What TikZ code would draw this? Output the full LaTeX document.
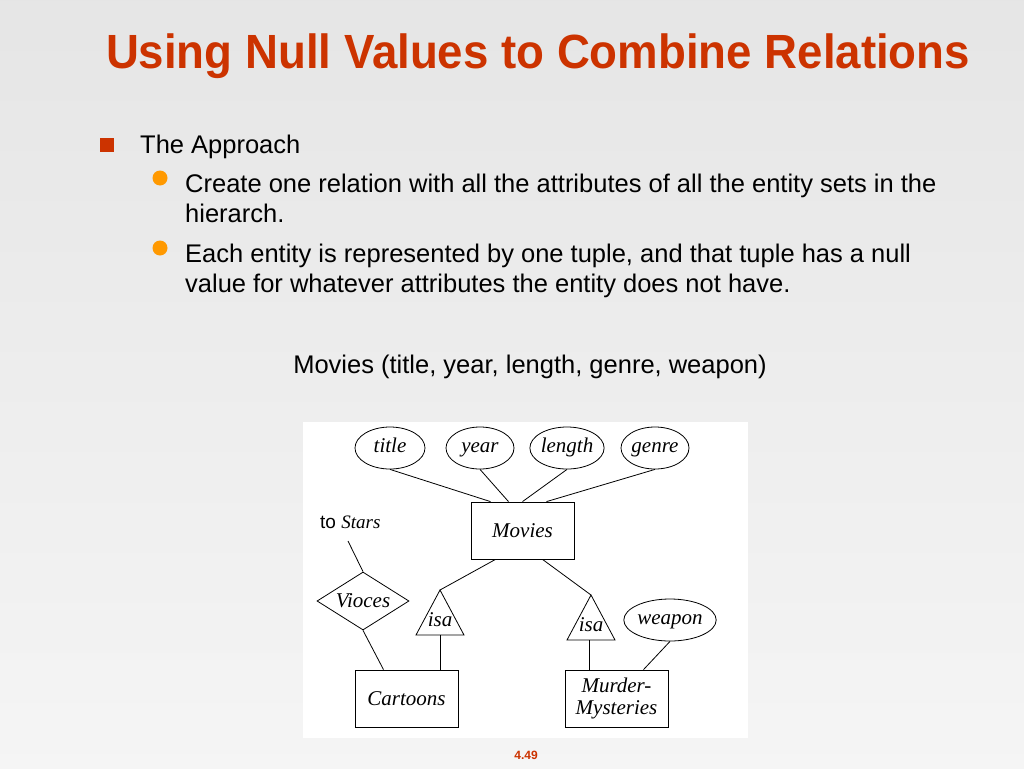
\documentclass[tikz,border=0pt]{standalone}
\usepackage{fontspec}
\setmainfont{Liberation Sans}
\newfontfamily\erfont{Liberation Serif}
\usetikzlibrary{shapes.geometric,positioning}
\definecolor{titlered}{HTML}{CC3300}
\definecolor{dotorange}{HTML}{FF9900}
\tikzset{
  body/.style={anchor=base west,inner sep=0,font=\fontsize{25.5}{28}\selectfont},
  attr/.style={draw,ellipse,thick,minimum height=42,font=\erfont\itshape\fontsize{21}{24}\selectfont,inner sep=0,text height=14,text depth=5},
  ent/.style={draw,thick,minimum width=103,minimum height=57,font=\erfont\itshape\fontsize{21}{22}\selectfont,align=center,inner sep=0},
  link/.style={thick}
}
\begin{document}
\begin{tikzpicture}[x=1pt,y=-1pt]
      % background
      \shade[top color=black!10,bottom color=black!4] (0,0) rectangle (1024,768);
      \useasboundingbox (0,0) rectangle (1024,768);

      % heading and bullets
      \node[anchor=base,text=titlered,font=\bfseries\fontsize{48}{52}\selectfont] (head) at (538,68) {\scalebox{0.95}[1]{Using Null Values to Combine Relations}};
      \fill[titlered] (100,138) rectangle (114,152);
      \node[body] (approach) at (140,153) {The Approach};
      \fill[dotorange] (160,178) circle (7.5);
      \node[body] (create) at (185,192) {Create one relation with all the attributes of all the entity sets in the};
      \node[body] (hier) at (185,222) {hierarch.};
      \fill[dotorange] (160,248) circle (7.5);
      \node[body] (each) at (185,262) {Each entity is represented by one tuple, and that tuple has a null};
      \node[body] (value) at (185,292) {value for whatever attributes the entity does not have.};
      \node[body,anchor=base] (schema) at (530,373) {Movies (title, year, length, genre, weapon)};

      % E/R diagram
      \fill[white] (303,422) rectangle (748,738);
      \node[attr,minimum width=70] (title) at (390,448) {title};
      \node[attr,minimum width=68] (year) at (480,448) {year};
      \node[attr,minimum width=74] (length) at (567,448) {length};
      \node[attr,minimum width=68] (genre) at (655,448) {genre};
      \node[attr,minimum width=92] (weapon) at (670,620) {weapon};
      \node[ent] (movies) at (522.5,530.5) {Movies};
      \node[ent] (cartoons) at (406.5,698.5) {Cartoons};
      \node[ent] (murder) at (616.5,698.5) {Murder-\\Mysteries};
      \node[draw,thick,diamond,aspect=1.6,minimum width=92,minimum height=58,inner sep=0,font=\erfont\itshape\fontsize{21}{24}\selectfont] (voices) at (363,601) {Vioces};
      \node[anchor=base west,inner sep=0,font=\fontsize{19}{22}\selectfont] (stars) at (320,528) {to {\erfont\itshape Stars}};
      \coordinate (starsend) at (348,541);

      % isa triangles
      \draw[thick] (440,590) coordinate (isaLtop) -- (464,635) -- (416,635) -- cycle;
      \coordinate (isaLbot) at (440,635);
      \node[font=\erfont\itshape\fontsize{21}{24}\selectfont] (isaL) at (440,620) {isa};
      \draw[thick] (591,595) coordinate (isaRtop) -- (615,640) -- (567,640) -- cycle;
      \coordinate (isaRbot) at (589,640);
      \node[font=\erfont\itshape\fontsize{21}{24}\selectfont] (isaR) at (591,625) {isa};

      % connectors
      \draw[link] (title.south) -- ([xshift=-32]movies.north);
      \draw[link] (year.south) -- ([xshift=-14]movies.north);
      \draw[link] (length.south) -- ([xshift=0]movies.north);
      \draw[link] (genre.south) -- ([xshift=24]movies.north);
      \draw[link] ([xshift=-27]movies.south) -- (isaLtop);
      \draw[link] ([xshift=20]movies.south) -- (isaRtop);
      \draw[link] (isaLbot) -- (isaLbot |- cartoons.north);
      \draw[link] (isaRbot) -- (isaRbot |- murder.north);
      \draw[link] (starsend) -- (voices.north);
      \draw[link] (voices.south) -- ([xshift=-23]cartoons.north);
      \draw[link] (weapon.south) -- ([xshift=27]murder.north);

      % page number
      \node[text=titlered,font=\bfseries\fontsize{12}{14}\selectfont] (page) at (526,755) {4.49};
    \end{tikzpicture}
\end{document}
